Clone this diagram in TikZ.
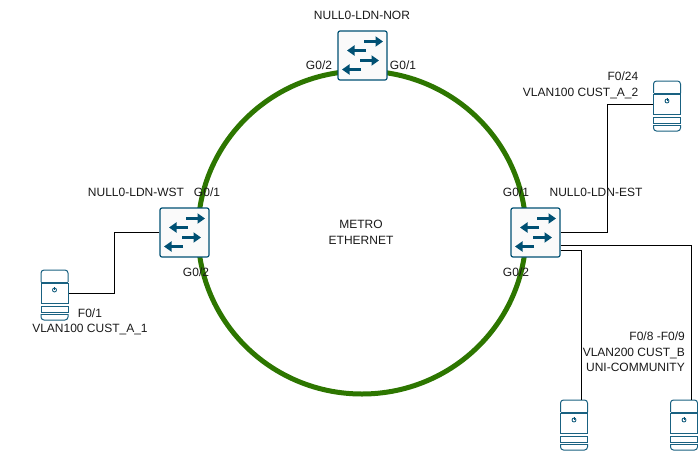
\documentclass[tikz,border=0pt]{standalone}
\usepackage{fontspec}
\setmainfont{Liberation Sans}
\usetikzlibrary{arrows.meta}
\definecolor{ciscoblue}{HTML}{005073}
\definecolor{ringgreen}{HTML}{2D7600}
\tikzset{
  lbl/.style={font=\fontsize{12}{15.5}\selectfont, inner sep=0pt, text=black!90},
  link/.style={draw=black, line width=1pt},
  part/.style={draw=ciscoblue!90, line width=1pt, fill=white},
  swarrow/.style={ciscoblue, line width=3.6pt, -{Triangle[width=10pt,length=7.5pt]}},
  switchicon/.pic={
    \node[draw=ciscoblue, line width=1.2pt, fill=black!2, rounded corners=2pt,
      minimum size=49pt, inner sep=0pt] (-box) at (0,0) {};
    \draw[swarrow] (1.5,-14) -- (20.5,-14);
    \draw[swarrow] (3.5,-5) -- (-15.5,-5);
    \draw[swarrow] (-2.5,5) -- (16.5,5);
    \draw[swarrow] (-1.5,14) -- (-20.5,14);
  },
  servericon/.pic={
    \draw[part, rounded corners=3pt] (-13.5,12) -- (-13.5,0) -- (13.5,0) -- (13.5,12);
    \draw[part] (-13.5,12) -- (13.5,12);
    \node[part, minimum width=27pt, minimum height=20pt, inner sep=0pt] (-box) at (0,23.5) {};
    \draw[part] (-13.5,36) rectangle (13.5,42);
    \draw[part, rounded corners=3pt] (-13.5,44) -- (-13.5,50) -- (13.5,50) -- (13.5,44);
    \draw[part] (-13.5,44) -- (13.5,44);
    \draw[ciscoblue, line width=0.8pt] (0,20) circle (2pt);
    \draw[ciscoblue, line width=0.8pt] (0,17) -- (0,20);
    \coordinate (-port) at (7,0);
  }
}

\begin{document}
\begin{tikzpicture}[x=1pt,y=-1pt]
  \useasboundingbox (0,0) rectangle (698,450);
  % metro ring
  \draw[ringgreen, line width=5pt] (362,232.5) ellipse (164 and 161.5);
  % switches
  \pic (nor) at (362.5,55.5) {switchicon};
  \pic (wst) at (184.5,232.5) {switchicon};
  \pic (est) at (535.5,232.5) {switchicon};
  % servers
  \pic (a1) at (54.5,270) {servericon};
  \pic (a2) at (667,81) {servericon};
  \pic (b1) at (574,400) {servericon};
  \pic (b2) at (684,400) {servericon};
  % links
  \coordinate (estp1) at ([yshift=-12.5pt]est-box.east);
  \coordinate (estp2) at ([yshift=-18pt]est-box.east);
  \coordinate (wstbend) at (114,232.5);
  \coordinate (estbend) at (607,232.5);
  \draw[link] (wst-box.west) -- (wstbend) |- (a1-box.east);
  \draw[link] (est-box.east) -- (estbend) |- (a2-box.west);
  \draw[link] (estp1) -| (b2-port);
  \draw[link] (estp2) -| (b1-port);
  % labels
  \node[lbl] (lnor) at (362,15) {NULL0-LDN-NOR};
  \node[lbl] (lnor2) at (319,65) {G0/2};
  \node[lbl] (lnor1) at (403,65) {G0/1};
  \node[lbl] (lwst) at (136,192) {NULL0-LDN-WST};
  \node[lbl] (lwst1) at (207,192) {G0/1};
  \node[lbl] (lwst2) at (196,272) {G0/2};
  \node[lbl] (lest) at (596,192) {NULL0-LDN-EST};
  \node[lbl] (lest1) at (516,192) {G0/1};
  \node[lbl] (lest2) at (516,272) {G0/2};
  \node[lbl, align=center] (lmetro) at (361,232.5) {METRO\\ETHERNET};
  \node[lbl, align=right, anchor=east] (la2) at (638.5,85.5) {F0/24\\VLAN100 CUST\_A\_2};
  \node[lbl, align=center] (la1) at (90,322) {F0/1\\VLAN100 CUST\_A\_1};
  \node[lbl, align=right, anchor=east] (lb) at (685,352) {F0/8 -F0/9\\VLAN200 CUST\_B\\UNI-COMMUNITY};
\end{tikzpicture}
\end{document}
